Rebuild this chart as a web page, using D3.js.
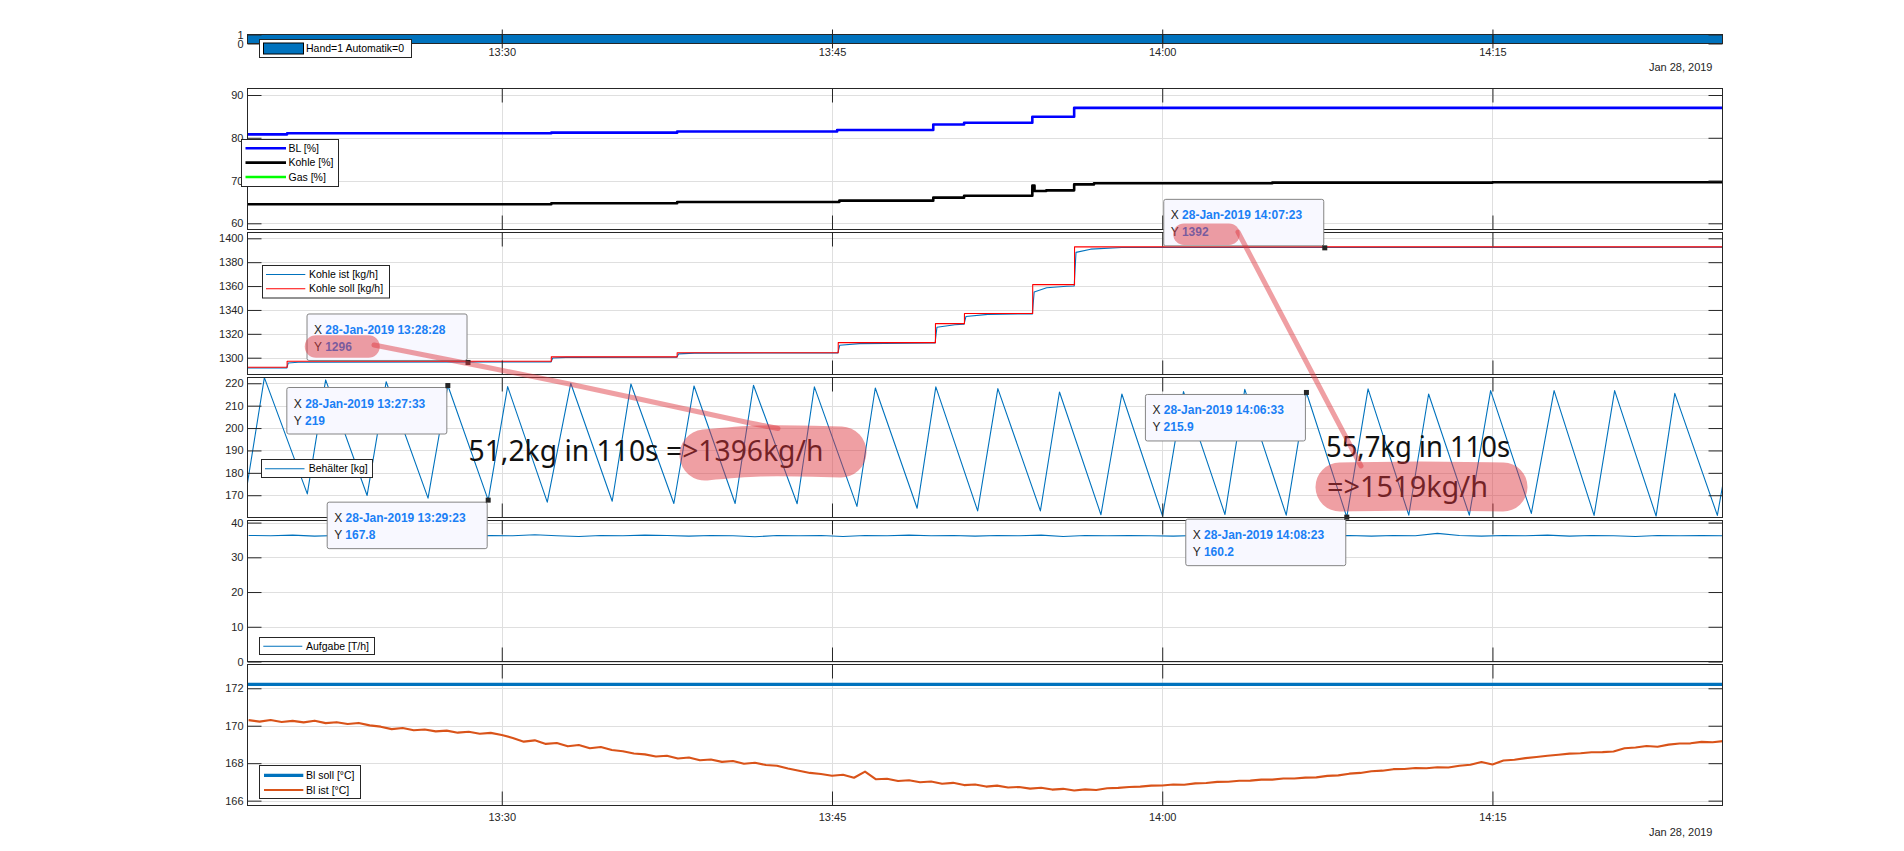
<!DOCTYPE html>
<html><head><meta charset="utf-8">
<script src="https://cdn.jsdelivr.net/npm/d3@7"></script>
<style>
html,body{margin:0;padding:0;background:#fff;overflow:hidden}
svg{display:block}
</style></head><body>
<svg id="chart" width="1904" height="851"></svg>
<script>
// ================= DATA =================
const DAY = "2019-01-28";
const xDomain = ["13:18:27", "14:25:27"];
const xTickLabels = ["13:30", "13:45", "14:00", "14:15"];
const dateLabel = "Jan 28, 2019";

const yTicks = [
  [0, 1],
  [60, 70, 80, 90],
  [1300, 1320, 1340, 1360, 1380, 1400],
  [170, 180, 190, 200, 210, 220],
  [0, 10, 20, 30, 40],
  [166, 168, 170, 172]
];

// Panel 1: Hand/Automatik
const handTimes = ["13:18:27", "14:25:27"];
const handValues = [1, 1];

// Panel 2: percentages
const blTimes = ["13:18:27","13:20:15","13:32:15","13:37:58","13:45:14","13:49:36","13:51:00","13:54:06","13:56:00","14:25:27"];
const blValues = [80.8, 81.07, 81.2, 81.47, 81.8, 83.1, 83.5, 84.9, 87.0, 87.0];
const kohlePctTimes = ["13:18:27","13:32:15","13:37:58","13:45:20","13:49:36","13:51:00","13:54:06","13:54:12","13:54:44","13:56:00","13:56:54","14:05:00","14:15:00","14:25:27"];
const kohlePctValues = [64.45, 64.7, 64.98, 65.3, 66.0, 66.45, 68.8, 67.55, 67.7, 69.1, 69.35, 69.5, 69.6, 69.65];
const gasTimes = [];
const gasValues = [];

// Panel 3: Kohle kg/h
const kohleIstTimes = ["13:18:27","13:20:14","13:20:18","13:20:45","13:32:14","13:32:19","13:32:55","13:37:57","13:38:02","13:38:45","13:45:16","13:45:21","13:46:15","13:49:41","13:49:46","13:50:35","13:51:00","13:51:05","13:52:05","13:54:06","13:54:11","13:54:45","13:55:40","13:56:00","13:56:05","13:56:45","13:58:10","14:25:27"];
const kohleIstValues = [1291.4, 1291.4, 1295.5, 1296.2, 1296.4, 1299.8, 1300.3, 1300.4, 1303.2, 1303.8, 1304.0, 1310.4, 1311.8, 1312.3, 1325.5, 1327.6, 1328.1, 1334.5, 1336.3, 1336.7, 1355.0, 1358.6, 1359.8, 1360.1, 1388.2, 1390.9, 1392.3, 1392.5];
const kohleSollTimes = ["13:18:27","13:20:15","13:32:15","13:37:58","13:45:17","13:49:42","13:51:01","13:54:07","13:56:01","14:25:27"];
const kohleSollValues = [1292, 1297, 1300.7, 1304.2, 1312.6, 1328.5, 1337.0, 1361.2, 1392.8, 1392.8];

// Panel 4: Behälter (peaks / troughs)
const behTimes = ["13:18:27","13:19:13","13:21:10","13:22:00","13:23:53","13:24:45","13:26:39","13:27:33","13:29:23","13:30:16",
  "13:32:04","13:33:08","13:35:01","13:35:52","13:37:49","13:38:44","13:40:36","13:41:26","13:43:25","13:44:12",
  "13:46:08","13:46:58","13:48:52","13:49:43","13:51:37","13:52:32","13:54:28","13:55:20","13:57:13","13:58:10",
  "14:00:01","14:00:58","14:02:51","14:03:45","14:05:38","14:06:33","14:08:23","14:09:21","14:11:12","14:12:06",
  "14:13:57","14:14:55","14:16:46","14:17:48","14:19:37","14:20:33","14:22:26","14:23:17","14:25:13","14:25:27"];
const behValues = [175.5, 222.5, 170.6, 221.5, 169.9, 220.7, 168.7, 219.0, 167.8, 218.5,
  166.9, 220.0, 167.3, 219.7, 166.3, 218.8, 166.3, 219.1, 166.2, 218.4,
  165.0, 217.9, 164.2, 218.4, 163.0, 217.6, 163.0, 216.1, 161.3, 215.2,
  160.7, 216.3, 161.4, 217.3, 161.1, 215.9, 160.2, 217.5, 161.1, 215.2,
  161.1, 216.7, 161.9, 216.7, 161.0, 216.7, 160.7, 215.5, 161.0, 174.0];

// Panel 5: Aufgabe T/h (one sample per minute from 13:18:30)
const aufgabeStart = "13:18:30";
const aufgabeStepSec = 60;
const aufgabeValues = [36.3,36.2,36.4,36.1,36.3,36.2,36.0,36.3,36.2,36.4,
  36.1,36.3,36.2,36.5,36.2,36.0,36.3,36.2,36.4,36.3,
  36.1,36.3,36.2,35.9,36.3,36.2,36.3,36.0,36.3,36.2,
  36.4,36.2,36.3,36.1,36.3,36.2,36.4,36.0,36.3,36.2,
  36.3,36.2,36.1,36.3,36.5,36.2,36.3,36.0,36.3,36.2,
  36.3,36.1,36.3,36.2,36.9,36.3,36.1,36.3,36.2,36.4,
  36.1,36.3,36.2,36.0,36.3,36.2,36.3,36.2];

// Panel 6: Bl temperatures
const blSollTimes = ["13:18:27", "14:25:27"];
const blSollValues = [172.21, 172.21];
const blIstStart = "13:18:30";
const blIstStepSec = 30;
const blIstValues = [170.30,170.22,170.31,170.20,170.26,170.18,170.27,170.14,170.19,170.09,
  170.15,170.02,169.95,169.82,169.88,169.76,169.80,169.70,169.74,169.63,
  169.68,169.57,169.62,169.50,169.35,169.15,169.22,169.03,169.08,168.90,
  168.97,168.80,168.86,168.70,168.64,168.52,168.47,168.36,168.40,168.25,
  168.30,168.16,168.20,168.07,168.12,167.97,168.02,167.90,167.86,167.72,
  167.60,167.48,167.42,167.33,167.38,167.22,167.55,167.14,167.17,167.05,
  167.09,166.98,167.02,166.90,166.95,166.83,166.86,166.75,166.80,166.70,
  166.73,166.64,166.69,166.59,166.63,166.54,166.60,166.57,166.66,166.68,
  166.73,166.75,166.80,166.81,166.86,166.85,166.92,166.94,167.00,167.01,
  167.06,167.07,167.12,167.12,167.18,167.18,167.23,167.24,167.32,167.35,
  167.44,167.48,167.57,167.60,167.68,167.69,167.74,167.73,167.78,167.77,
  167.86,167.92,168.06,167.93,168.14,168.18,168.27,168.33,168.40,168.45,
  168.51,168.53,168.58,168.59,168.62,168.80,168.84,168.92,168.88,168.99,
  169.05,169.06,169.14,169.12,169.18];

// Data tips
const tipPanels = [3, 3, 2, 2, 3, 3];
const tipTimes = ["13:27:33", "13:29:23", "13:28:28", "14:07:23", "14:06:33", "14:08:23"];
const tipValues = [219, 167.8, 1296, 1392, 215.9, 160.2];

// Annotation texts
const noteTexts = ["51,2kg in 110s =>1396kg/h", "55,7kg in 110s", "=>1519kg/h"];

// ================= LAYOUT / STYLE =================
const L = 247.5, R = 1722.5;
const ink = "#262626";
const gridColor = "#dfdfdf";
const tickFont = "'Liberation Sans', Arial, Helvetica, sans-serif";
const panelLayout = [
  {top: 34.5,  bottom: 43.5,  domain: [0, 1]},
  {top: 88.5,  bottom: 229.5, domain: [58.55, 91.52]},
  {top: 232.5, bottom: 374.5, domain: [1285.93, 1404.86]},
  {top: 377.5, bottom: 517.5, domain: [160.05, 222.58]},
  {top: 520.5, bottom: 661.5, domain: [0, 40.6]},
  {top: 664.5, bottom: 805.5, domain: [165.74, 173.27]}
];
const legendLayout = [
  {x: 259.5, y: 39.5,  w: 152, h: 18,   rows: [48.5],                lx: [263, 303],     tx: 306},
  {x: 241.5, y: 139.5, w: 97,  h: 47,   rows: [148.3, 162.6, 177.0], lx: [245.5, 286],   tx: 288.5},
  {x: 262.5, y: 265.5, w: 127, h: 32.5, rows: [274.5, 288.7],        lx: [266, 305.3],   tx: 309},
  {x: 261.5, y: 459.5, w: 111, h: 18,   rows: [468.7],               lx: [265, 304.5],   tx: 308.7},
  {x: 259.5, y: 637.5, w: 115, h: 17,   rows: [646.3],               lx: [263.3, 302.3], tx: 306},
  {x: 259.5, y: 765.5, w: 101, h: 33,   rows: [775.3, 790.0],        lx: [264, 303.3],   tx: 306}
];
const tipCorner = ["tr", "tr", "br", "br", "tr", "tr"];

// ================= BUILD =================
const svg = d3.select("#chart");
const parseFull = d3.timeParse("%Y-%m-%d %H:%M:%S");
const T = s => parseFull(`${DAY} ${s.length === 5 ? s + ":00" : s}`);
const x = d3.scaleTime().domain(xDomain.map(T)).range([L, R]);
const ys = panelLayout.map(p => d3.scaleLinear().domain(p.domain).range([p.bottom, p.top]));
const xTickDates = xTickLabels.map(T);

const pairs = (times, values) => times.map((t, i) => ({t: T(t), v: values[i]}));
const regular = (start, step, values) => values.map((v, i) => ({t: d3.timeSecond.offset(T(start), i * step), v}));

const series = [
  {p: 1, name: "BL [%]",            data: pairs(blTimes, blValues),             color: "#0000ff", w: 2.6, curve: d3.curveStepAfter},
  {p: 1, name: "Kohle [%]",         data: pairs(kohlePctTimes, kohlePctValues), color: "#000000", w: 2.6, curve: d3.curveStepAfter},
  {p: 1, name: "Gas [%]",           data: pairs(gasTimes, gasValues),           color: "#00ff00", w: 2.6, curve: d3.curveLinear},
  {p: 2, name: "Kohle ist [kg/h]",  data: pairs(kohleIstTimes, kohleIstValues), color: "#0072bd", w: 1.1, curve: d3.curveLinear},
  {p: 2, name: "Kohle soll [kg/h]", data: pairs(kohleSollTimes, kohleSollValues), color: "#ff0000", w: 1.1, curve: d3.curveStepAfter},
  {p: 3, name: "Behälter [kg]",     data: pairs(behTimes, behValues),           color: "#0072bd", w: 1.1, curve: d3.curveLinear},
  {p: 4, name: "Aufgabe [T/h]",     data: regular(aufgabeStart, aufgabeStepSec, aufgabeValues), color: "#0072bd", w: 1.1, curve: d3.curveLinear},
  {p: 5, name: "Bl soll [°C]",      data: pairs(blSollTimes, blSollValues),     color: "#0072bd", w: 3.2, curve: d3.curveLinear},
  {p: 5, name: "Bl ist [°C]",       data: regular(blIstStart, blIstStepSec, blIstValues), color: "#d95319", w: 2.1, curve: d3.curveLinear}
];

const defs = svg.append("defs");
panelLayout.forEach((p, i) => {
  defs.append("clipPath").attr("id", "clip" + i).append("rect")
    .attr("x", L).attr("y", p.top).attr("width", R - L).attr("height", p.bottom - p.top);
});

const styleAxis = (sel) => {
  sel.attr("font-family", tickFont).attr("font-size", 11);
  sel.select(".domain").remove();
  sel.selectAll(".tick line").attr("stroke", ink).attr("stroke-width", 1);
  sel.selectAll(".tick text").attr("fill", ink);
};

panelLayout.forEach((p, i) => {
  const y = ys[i];
  const g = svg.append("g").attr("class", "panel" + i);
  g.append("rect").attr("x", L).attr("y", p.top).attr("width", R - L).attr("height", p.bottom - p.top).attr("fill", "#fff");

  // grid
  if (i > 0) {
    g.append("g").selectAll("line").data(xTickDates).join("line")
      .attr("x1", d => Math.round(x(d)) + 0.5).attr("x2", d => Math.round(x(d)) + 0.5)
      .attr("y1", p.top).attr("y2", p.bottom).attr("stroke", gridColor).attr("stroke-width", 1);
    g.append("g").selectAll("line").data(yTicks[i]).join("line")
      .attr("x1", L).attr("x2", R)
      .attr("y1", d => Math.round(y(d)) + 0.5).attr("y2", d => Math.round(y(d)) + 0.5)
      .attr("stroke", gridColor).attr("stroke-width", 1);
  }

  const dg = g.append("g").attr("clip-path", `url(#clip${i})`);
  if (i === 0) {
    const area = d3.area().x(d => x(d.t)).y0(y(0)).y1(d => y(d.v)).curve(d3.curveStepAfter);
    dg.append("path").datum(pairs(handTimes, handValues)).attr("d", area).attr("fill", "#0072bd");
  }
  series.filter(s => s.p === i).forEach(s => {
    const line = d3.line().x(d => x(d.t)).y(d => y(d.v)).curve(s.curve);
    dg.append("path").datum(s.data).attr("d", line).attr("fill", "none")
      .attr("stroke", s.color).attr("stroke-width", s.w).attr("stroke-linejoin", "round");
  });

  // box
  g.append("rect").attr("x", L).attr("y", p.top).attr("width", R - L).attr("height", p.bottom - p.top)
    .attr("fill", "none").attr("stroke", ink).attr("stroke-width", 1);

  // ticks
  g.append("g").attr("transform", `translate(${L},0)`)
    .call(d3.axisLeft(y).tickValues(yTicks[i]).tickSizeInner(-14).tickSizeOuter(0).tickPadding(4).tickFormat(d3.format("d")))
    .call(styleAxis);
  g.append("g").attr("transform", `translate(${R},0)`)
    .call(d3.axisRight(y).tickValues(yTicks[i]).tickSizeInner(-14).tickSizeOuter(0).tickFormat(""))
    .call(styleAxis);
  g.append("g").attr("transform", `translate(0,${p.top})`)
    .call(d3.axisTop(x).tickValues(xTickDates).tickSizeInner(-14).tickSizeOuter(0).tickFormat(""))
    .call(styleAxis);
  const showLabels = (i === 0 || i === panelLayout.length - 1);
  g.append("g").attr("transform", `translate(0,${p.bottom})`)
    .call(d3.axisBottom(x).tickValues(xTickDates).tickSizeInner(-14).tickSizeOuter(0)
      .tickPadding(i === 0 ? 5 : 7.4)
      .tickFormat(showLabels ? d3.timeFormat("%H:%M") : ""))
    .call(styleAxis);
  if (showLabels) {
    g.append("text").attr("x", 1712.5).attr("y", i === 0 ? 70.5 : 835.8)
      .attr("text-anchor", "end").attr("font-family", tickFont).attr("font-size", 11)
      .attr("fill", ink).text(dateLabel);
  }
});

// legends
legendLayout.forEach((lg, i) => {
  const g = svg.append("g");
  g.append("rect").attr("x", lg.x).attr("y", lg.y).attr("width", lg.w).attr("height", lg.h)
    .attr("fill", "#fff").attr("stroke", ink).attr("stroke-width", 1);
  const entries = i === 0
    ? [{name: "Hand=1 Automatik=0", patch: true}]
    : series.filter(s => s.p === i);
  entries.forEach((s, k) => {
    const cy = lg.rows[k];
    if (s.patch) {
      g.append("rect").attr("x", lg.lx[0] + 0.5).attr("y", cy - 5.5).attr("width", lg.lx[1] - lg.lx[0]).attr("height", 11)
        .attr("fill", "#0072bd").attr("stroke", "#000").attr("stroke-width", 1);
    } else {
      g.append("line").attr("x1", lg.lx[0]).attr("x2", lg.lx[1]).attr("y1", cy).attr("y2", cy)
        .attr("stroke", s.color).attr("stroke-width", s.w);
    }
    g.append("text").attr("x", lg.tx).attr("y", cy).attr("dy", "0.36em")
      .attr("font-family", tickFont).attr("font-size", 10.5).attr("fill", "#000").text(s.name);
  });
});

// data tips
const fmtTip = d3.timeFormat("%d-%b-%Y %H:%M:%S");
const tipBlue = "#1a7ff5";
tipTimes.forEach((ts, k) => {
  const pi = tipPanels[k];
  const mx = x(T(ts)), my = ys[pi](tipValues[k]);
  const bx = mx - 161, by = tipCorner[k] === "tr" ? my + 2 : my - 48.5;
  const g = svg.append("g");
  g.append("rect").attr("x", bx).attr("y", by).attr("width", 160).attr("height", 46.5).attr("rx", 2)
    .attr("fill", "#f8f8ff").attr("stroke", "#858585").attr("stroke-width", 1);
  const rows = [["X ", fmtTip(T(ts))], ["Y ", String(tipValues[k])]];
  rows.forEach((r, j) => {
    const t = g.append("text").attr("x", bx + 7).attr("y", by + 20 + j * 17)
      .attr("font-family", tickFont).attr("font-size", 12).attr("fill", ink);
    t.append("tspan").text(r[0]);
    t.append("tspan").attr("font-weight", "bold").attr("fill", tipBlue).text(r[1]);
  });
  g.append("rect").attr("x", mx - 2.5).attr("y", my - 2.5).attr("width", 5).attr("height", 5).attr("fill", ink);
});

// annotation texts
const noteFont = "'Noto Sans', 'Open Sans', sans-serif";
const noteLayout = [
  {x: 468.5, y: 461, len: 355},
  {x: 1326, y: 457.3, len: 184},
  {x: 1327, y: 496.7, len: 161}
];
noteTexts.forEach((s, i) => {
  svg.append("text").attr("x", noteLayout[i].x).attr("y", noteLayout[i].y)
    .attr("font-family", noteFont).attr("font-size", 28.5).attr("fill", "#111")
    .attr("textLength", noteLayout[i].len).attr("lengthAdjust", "spacingAndGlyphs").text(s);
});

// highlighter overlay
const pink = "rgb(222,55,62)";
const hl = svg.append("g");
const marker = (pts, w) => hl.append("path")
  .attr("d", d3.line().curve(d3.curveCatmullRom)(pts))
  .attr("fill", "none").attr("stroke", pink).attr("stroke-opacity", 0.48)
  .attr("stroke-width", w).attr("stroke-linecap", "round").attr("stroke-linejoin", "round");
marker([[316, 346.5], [368.5, 346.5]], 22.5);
marker([[1184, 234.2], [1229, 234.2]], 21.5);
marker([[374, 345], [567, 383.5], [750, 423], [778, 428.5]], 5);
marker([[1238, 232], [1361, 466]], 5);
marker([[705, 455], [760, 451], [841, 452]], 51);
marker([[1340, 487], [1420, 486], [1503, 487]], 49);
</script>
</body></html>
